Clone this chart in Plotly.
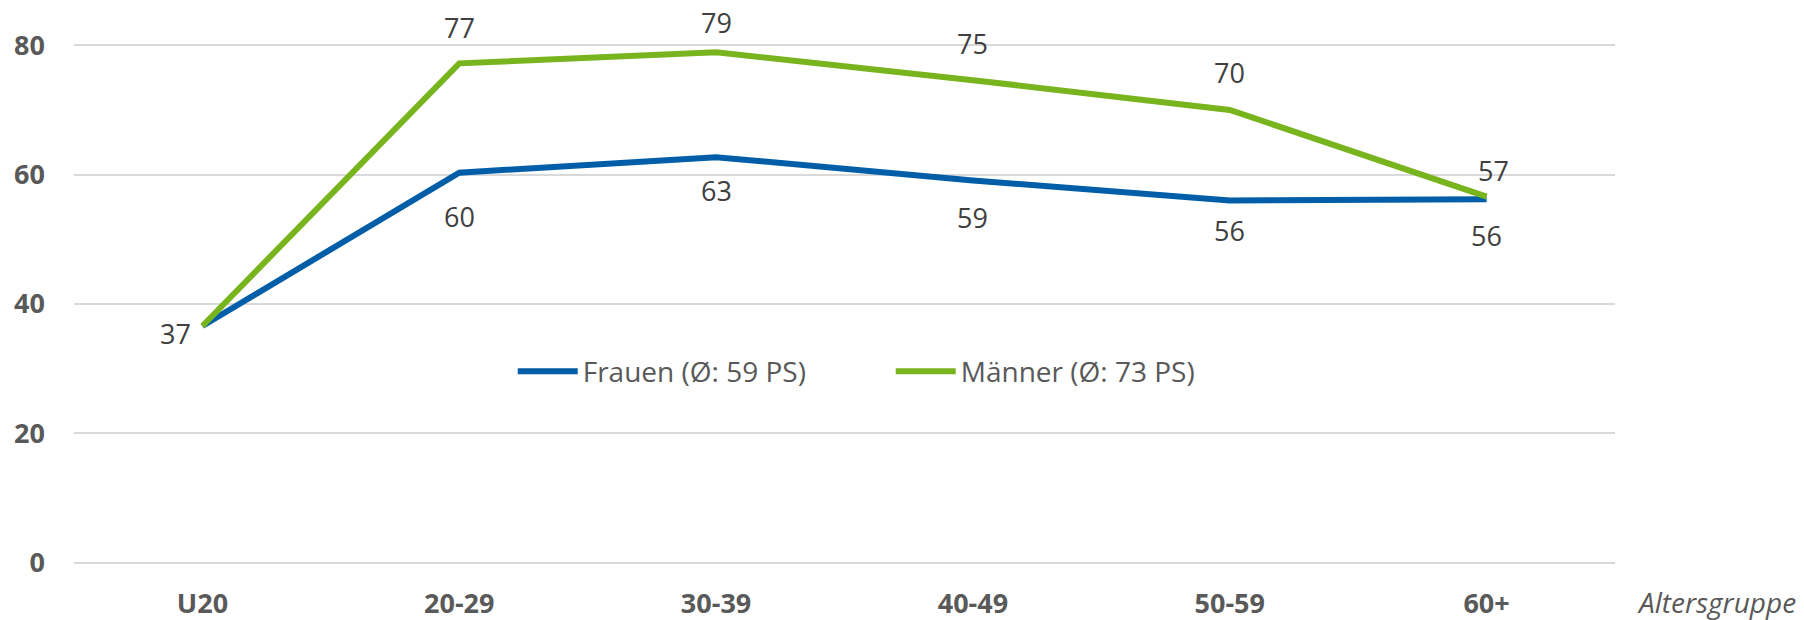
import plotly.graph_objects as go

categories = ["U20", "20-29", "30-39", "40-49", "50-59", "60+"]
frauen = [36.6, 60.3, 62.7, 59.1, 56.0, 56.2]
maenner = [36.6, 77.2, 78.9, 74.6, 70.0, 56.6]
frauen_name = "Frauen (Ø: 59 PS)"
maenner_name = "Männer (Ø: 73 PS)"
y_ticks = [0, 20, 40, 60, 80]
x_title = "Altersgruppe"

# label placement (pixel shifts), styles
frauen_label_shift = [(-27, -7), (0, -44), (0, -33), (0, -37), (0, -30), (0, -36)]
maenner_label_shift = [None, (0, 36), (0, 30), (0, 37), (0, 37), (7, 26)]

BLUE = "#005EA8"
GREEN = "#78B41E"
FONT = "Open Sans"

fig = go.Figure()
fig.add_trace(go.Scatter(x=categories, y=frauen, mode="lines", name=frauen_name,
                         line=dict(color=BLUE, width=6), cliponaxis=False))
fig.add_trace(go.Scatter(x=categories, y=maenner, mode="lines", name=maenner_name,
                         line=dict(color=GREEN, width=6), cliponaxis=False))

annotations = []
for cat, v, sh in zip(categories, frauen, frauen_label_shift):
    if sh is None:
        continue
    annotations.append(dict(x=cat, y=v, xref="x", yref="y", text=f"{round(v)}",
                            showarrow=False, xshift=sh[0], yshift=sh[1],
                            font=dict(family=FONT, size=27, color="#404040")))
for cat, v, sh in zip(categories, maenner, maenner_label_shift):
    if sh is None:
        continue
    annotations.append(dict(x=cat, y=v, xref="x", yref="y", text=f"{round(v)}",
                            showarrow=False, xshift=sh[0], yshift=sh[1],
                            font=dict(family=FONT, size=27, color="#404040")))
annotations.append(dict(x=1, y=0, xref="paper", yref="paper", text=f"<i>{x_title}</i>",
                        showarrow=False, xanchor="right", yanchor="middle",
                        xshift=183, yshift=-36,
                        font=dict(family=FONT, size=28, color="#595959")))

fig.update_layout(
    width=1804, height=620,
    margin=dict(l=74, r=189, t=42, b=54, pad=0, autoexpand=False),
    paper_bgcolor="white", plot_bgcolor="white",
    showlegend=True,
    legend=dict(orientation="h", x=0.53, xanchor="center", y=0.371, yanchor="middle",
                font=dict(family=FONT, size=28, color="#595959"),
                bgcolor="rgba(0,0,0,0)", itemwidth=60, tracegroupgap=0,
                entrywidthmode="pixels", entrywidth=303),
    annotations=annotations,
    font=dict(family=FONT),
)
fig.update_xaxes(type="category", range=[-0.5, 5.5], showgrid=False, zeroline=False,
                 showline=False, ticks="", automargin=False,
                 tickfont=dict(family=FONT, size=27, color="#595959", weight="bold"),
                 ticklabelstandoff=19)
fig.update_yaxes(range=[-0.5, 80.5], tickvals=y_ticks, showgrid=True, gridcolor="#D9D9D9",
                 gridwidth=1.5, zeroline=False, showline=False, ticks="", automargin=False,
                 tickfont=dict(family=FONT, size=27, color="#595959", weight="bold"),
                 ticklabelstandoff=28)

fig.write_html("out.html", config={"displayModeBar": False},
               post_script="document.body.style.margin='0';document.documentElement.style.overflow='hidden';")
